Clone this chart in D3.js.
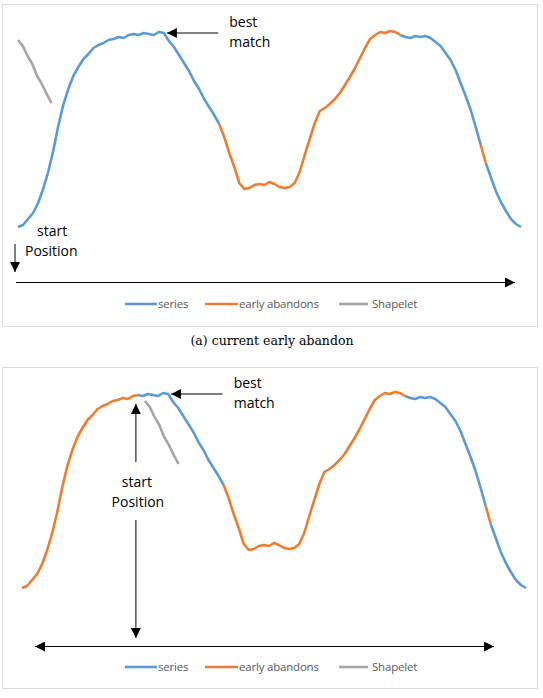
<!DOCTYPE html>
<html>
<head>
<meta charset="utf-8">
<script src="https://cdn.jsdelivr.net/npm/d3@7"></script>
<style>
  body { margin: 0; background: #fff; }
  svg { display: block; }
</style>
</head>
<body>
<svg id="chart"></svg>
<script>
// series values (index 0..100)
const seriesValues = [
  0, 2, 8, 14, 24, 38, 55, 76, 101, 122,
  138, 151, 160, 168, 173, 179, 182, 184, 187, 188,
  190, 189, 192, 193, 192, 194, 193, 192, 195, 194,
  186, 180, 172, 164, 156, 146, 138, 128, 120, 112,
  103, 90, 74, 60, 44, 38, 39, 42, 43, 42,
  45, 43, 40, 39, 40, 44, 55, 72, 88, 104,
  116, 119, 123, 128, 134, 142, 150, 159, 169, 179,
  188, 192, 195, 194, 196, 195, 192, 190, 189, 191,
  190, 191, 189, 185, 181, 174, 167, 157, 144, 131,
  117, 100, 82, 64, 50, 36, 25, 16, 8, 3,
  0
];
const shapeletValues = [187, 181, 171, 163, 151, 143, 133, 124];

// coloured pieces: [from, to, kind]
const segmentsA = [[0, 40, 'series'], [40, 76, 'abandon'], [76, 92, 'series'], [92, 93, 'abandon'], [93, 100, 'series']];
const segmentsB = [[0, 23, 'abandon'], [23, 40, 'series'], [40, 76, 'abandon'], [76, 92, 'series'], [92, 93, 'abandon'], [93, 100, 'series']];

const legendLabels = ['series', 'early abandons', 'Shapelet'];
const colors = { series: '#5b9bd5', abandon: '#ed7d31', shapelet: '#a5a5a5' };

const W = 543, H = 698;
const svg = d3.select('#chart').attr('width', W).attr('height', H);

const defs = svg.append('defs');
defs.append('marker')
    .attr('id', 'arrow')
    .attr('viewBox', '0 0 10 10')
    .attr('refX', 10).attr('refY', 5)
    .attr('markerWidth', 10).attr('markerHeight', 10)
    .attr('markerUnits', 'userSpaceOnUse')
    .attr('orient', 'auto-start-reverse')
  .append('path')
    .attr('d', 'M0,0L10,5L0,10z')
    .attr('fill', '#000');

function drawPanel(cfg) {
    const g = svg.append('g');

    // frame
    g.append('rect')
        .attr('x', 2.5).attr('y', cfg.top + 0.5)
        .attr('width', 535).attr('height', cfg.height)
        .attr('fill', 'none').attr('stroke', '#dcdcdc');

    const x = d3.scaleLinear().domain([0, 100]).range(cfg.xRange);
    const y = d3.scaleLinear().domain([0, 196]).range([cfg.base, cfg.base - 196]);

    const line = d3.line()
        .x(d => x(d.i))
        .y(d => y(d.v));

    const pts = seriesValues.map((v, i) => ({ i: i, v: v }));

    g.selectAll('.seg')
        .data(cfg.segments)
        .join('path')
        .attr('class', 'seg')
        .attr('d', s => line(pts.slice(s[0], s[1] + 1)))
        .attr('fill', 'none')
        .attr('stroke', s => colors[s[2]])
        .attr('stroke-width', 2.6)
        .attr('stroke-linejoin', 'round');

    // shapelet
    const sp = shapeletValues.map((v, k) => ({ i: cfg.shapeletAt + k * 0.95, v: v }));
    g.append('path')
        .attr('d', line(sp))
        .attr('fill', 'none')
        .attr('stroke', colors.shapelet)
        .attr('stroke-width', 2.6);

    // best match arrow + label
    const bmY = y(194);
    g.append('line')
        .attr('x1', x(39.8)).attr('y1', bmY)
        .attr('x2', x(29.6)).attr('y2', bmY)
        .attr('stroke', '#000').attr('stroke-width', 1)
        .attr('marker-end', 'url(#arrow)');
    g.append('text').attr('x', x(42)).attr('y', bmY - 6).text('best');
    g.append('text').attr('x', x(42)).attr('y', bmY + 14).text('match');

    cfg.extras(g, x, y);

    // legend
    const lg = g.append('g').attr('transform', `translate(0,${cfg.legendY})`);
    const items = [
        { x: 125, w: 32, label: legendLabels[0], c: colors.series },
        { x: 205, w: 33, label: legendLabels[1], c: colors.abandon },
        { x: 339, w: 29, label: legendLabels[2], c: colors.shapelet }
    ];
    items.forEach(it => {
        lg.append('line')
            .attr('x1', it.x).attr('x2', it.x + it.w)
            .attr('stroke', it.c).attr('stroke-width', 2.6);
        lg.append('text')
            .attr('x', it.x + it.w + (it.c === colors.shapelet ? 4 : 1)).attr('y', 4)
            .attr('font-size', 11.5).attr('fill', '#595959')
            .attr('letter-spacing', -0.2)
            .text(it.label);
    });
    return g;
}

svg.style('font-family', '"Open Sans", sans-serif').style('font-size', '14px');

// (a)
drawPanel({
    top: 4, height: 322, base: 227, xRange: [18, 521],
    segments: segmentsA, shapeletAt: 0, legendY: 304,
    extras: (g, x, y) => {
        g.append('text').attr('x', 37).attr('y', 236).text('start');
        g.append('text').attr('x', 25).attr('y', 256).text('Position');
        g.append('line')
            .attr('x1', 15).attr('y1', 244).attr('x2', 15).attr('y2', 272)
            .attr('stroke', '#000').attr('marker-end', 'url(#arrow)');
        g.append('line')
            .attr('x1', 16).attr('y1', 282.5).attr('x2', 515).attr('y2', 282.5)
            .attr('stroke', '#000').attr('marker-end', 'url(#arrow)');
    }
});

svg.append('text')
    .attr('x', 272).attr('y', 345)
    .attr('text-anchor', 'middle')
    .style('font-family', '"DejaVu Serif", serif').style('font-size', '12.5px')
    .text('(a) current early abandon');

// (b)
drawPanel({
    top: 367, height: 321, base: 588, xRange: [22, 526],
    segments: segmentsB, shapeletAt: 24.4, legendY: 667,
    extras: (g, x, y) => {
        const cx = x(22.6);
        g.append('text').attr('x', cx + 1).attr('y', 487).attr('text-anchor', 'middle').text('start');
        g.append('text').attr('x', cx + 2).attr('y', 507).attr('text-anchor', 'middle').text('Position');
        g.append('line')
            .attr('x1', cx).attr('y1', 462).attr('x2', cx).attr('y2', y(194) + 10)
            .attr('stroke', '#000').attr('marker-end', 'url(#arrow)');
        g.append('line')
            .attr('x1', cx).attr('y1', 520).attr('x2', cx).attr('y2', 638)
            .attr('stroke', '#000').attr('marker-end', 'url(#arrow)');
        g.append('line')
            .attr('x1', 35).attr('y1', 646.5).attr('x2', 494).attr('y2', 646.5)
            .attr('stroke', '#000')
            .attr('marker-start', 'url(#arrow)').attr('marker-end', 'url(#arrow)');
    }
});

// second caption sits at the page edge, as in the source picture
svg.append('text')
    .attr('x', 272).attr('y', 708)
    .attr('text-anchor', 'middle')
    .style('font-family', '"DejaVu Serif", serif').style('font-size', '12.5px')
    .text('(b) proposed early abandon');
</script>
</body>
</html>
